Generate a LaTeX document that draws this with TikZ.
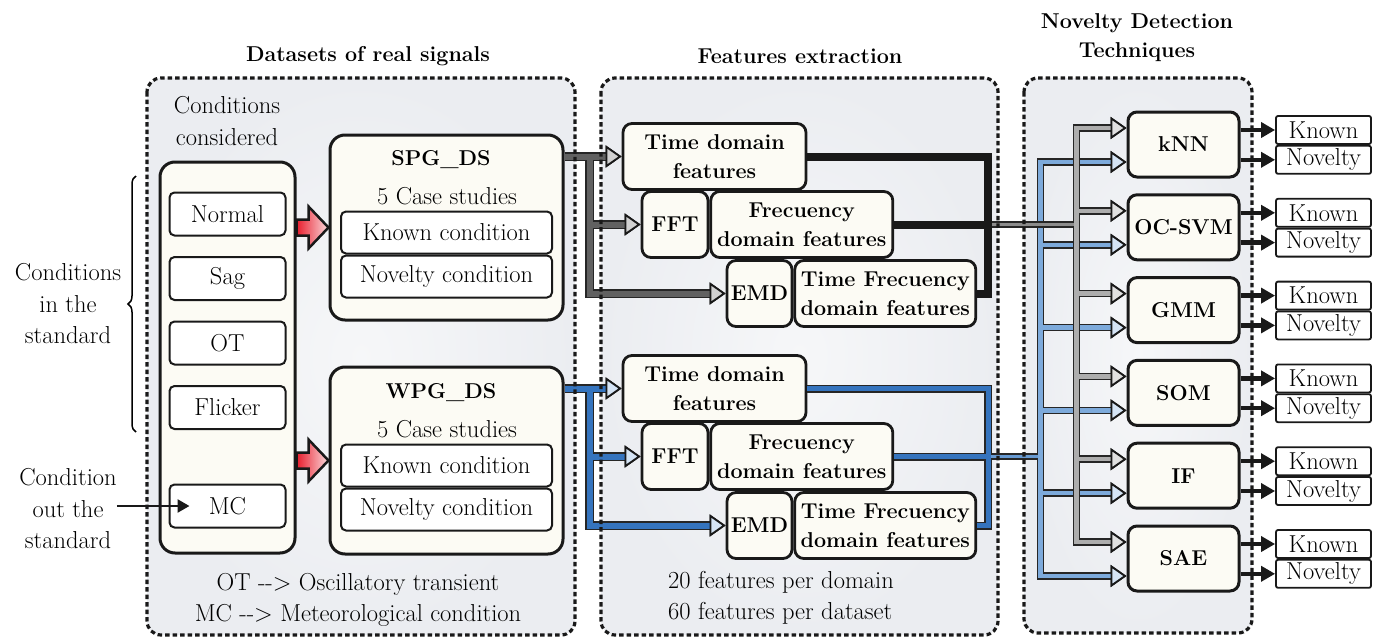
\documentclass[tikz,border=0pt]{standalone}
\usepackage{tikz}
\usetikzlibrary{positioning, arrows.meta, calc, decorations.pathreplacing}
\pgfdeclarelayer{background}
\pgfdeclarelayer{foreground}
\pgfsetlayers{background,main,foreground}
\definecolor{panelbg}{HTML}{EBEDF1}
\definecolor{cream}{HTML}{FCFBF4}
\definecolor{sigred}{HTML}{E81E2D}
\definecolor{sigpink}{HTML}{FBDADD}
\definecolor{wpgblue}{HTML}{3574BE}
\definecolor{trunkblue}{HTML}{7DAADB}
\definecolor{headblue}{HTML}{D5E4F5}
\newcommand{\Reg}{\fontsize{24.5}{31.5}\selectfont}
\newcommand{\Bld}{\fontsize{21.5}{29}\selectfont\bfseries}
\tikzset{
    txt/.style={font=\Reg, inner sep=0pt, align=center},
    btxt/.style={font=\Bld, inner sep=0pt, align=center},
    panel/.style={draw=black!90, line width=3.2pt, dash pattern=on 4.5pt off 3pt, rounded corners=14pt},
    panelfill/.style={inner color=panelbg!45!white, outer color=panelbg, rounded corners=14pt},
    bigbox/.style={draw=black!90, fill=cream, line width=3pt, rounded corners=15pt},
    condbox/.style={txt, draw=black!90, fill=white, line width=2pt, rounded corners=5pt, minimum width=116pt, minimum height=43pt},
    casebox/.style={txt, draw=black!90, fill=white, line width=2pt, rounded corners=5pt, minimum width=211pt, minimum height=42pt},
    featbox/.style={btxt, draw=black!90, fill=cream, line width=2.8pt, rounded corners=9pt, minimum height=66pt},
    ndbox/.style={btxt, draw=black!90, fill=cream, line width=3pt, rounded corners=9pt, minimum width=111pt, minimum height=65pt},
    outbox/.style={txt, draw=black!90, fill=white, line width=1.8pt, rounded corners=2pt, minimum width=95pt, minimum height=28pt},
    redblock/.style={draw=black!90, line width=2.5pt, left color=sigred, right color=sigpink, line join=miter},
    headtip/.style={-{Triangle[length=16pt, width=22pt, line width=1.8pt, color=black!90, fill=#1]}},
    feedout/.style={line width=9pt, draw=black!85, headtip=white},
    feedgray/.style={line width=6pt, draw=black!62, headtip=black!18},
    feedblue/.style={line width=6pt, draw=wpgblue, headtip=headblue},
    trunkout/.style={line width=7.5pt, draw=black!85, headtip=white},
    trunkgray/.style={line width=4.5pt, draw=black!32, headtip=black!12},
    trunkbl/.style={line width=4.5pt, draw=trunkblue, headtip=headblue},
    linkout/.style={line width=6.5pt, draw=black!85},
    linkgray/.style={line width=3.5pt, draw=black!45},
    linkblue/.style={line width=3.5pt, draw=trunkblue!70!wpgblue},
    collect/.style={line width=8pt, draw=black!90},
    collout/.style={line width=8pt, draw=black!85},
    collblue/.style={line width=5pt, draw=wpgblue},
    outarrow/.style={line width=4.5pt, draw=black!90, -{Triangle[length=14pt, width=15pt]}},
    inarrow/.style={line width=2.5pt, draw=black!90, -{Triangle[length=12pt, width=13pt]}},
}

\begin{document}
\begin{tikzpicture}[x=1pt, y=-1pt]
    \useasboundingbox (0,0) rectangle (1384,637);

    % panels
    \foreach \xa/\xb/\yb in {147/575/635, 601/998/635, 1024/1252/633} {
      \begin{pgfonlayer}{background}
        \shade[panelfill] (\xa,78) rectangle (\xb,\yb);
      \end{pgfonlayer}
      \begin{pgfonlayer}{foreground}
        \draw[panel] (\xa,78) rectangle (\xb,\yb);
      \end{pgfonlayer}
    }

    \node[btxt] (dstitle) at (368,56) {Datasets of real signals};
    \node[btxt] (fetitle) at (800,56) {Features extraction};
    \node[btxt] (ndtitle) at (1137,38) {Novelty Detection\\Techniques};

    % conditions
    \node[txt] (consid) at (227,121) {Conditions\\considered};
    \node[bigbox, minimum width=135pt, minimum height=391pt] (conds) at (227.5,357.5) {};
    \foreach \cname/\y [count=\i] in {Normal/214, Sag/278.5, OT/343, Flicker/407.5, MC/506}
      \node[condbox] (c\i) at (227.5,\y) {\cname};

    \node[txt] (instd) at (68,304) {Conditions\\in the\\standard};
    \node[txt] (outstd) at (68,509) {Condition\\out the\\standard};
    \draw[line width=1.5pt, decorate, decoration={brace, amplitude=8pt}] (136,432) -- (136,176);
    \draw[inarrow] (outstd.east |- c5) -- ([xshift=21pt]c5.west);

    % datasets
    \node[bigbox, minimum width=233pt, minimum height=185pt] (spg) at (446.5,227.5) {};
    \node[btxt] (spgname) at (441,160) {SPG\_DS};
    \node[txt] (spgcases) at (447,196) {5 Case studies};
    \node[casebox] (spgk) at (446.5,232.5) {Known condition};
    \node[casebox, below=0pt of spgk] (spgn) {Novelty condition};

    \node[bigbox, minimum width=233pt, minimum height=187pt] (wpg) at (446.5,460.5) {};
    \node[btxt] (wpgname) at (441,393) {WPG\_DS};
    \node[txt] (wpgcases) at (447,429) {5 Case studies};
    \node[casebox] (wpgk) at (446.5,465.5) {Known condition};
    \node[casebox, below=0pt of wpgk] (wpgn) {Novelty condition};

    \foreach \ds in {spg, wpg}
      \shadedraw[redblock] ($(conds.east |- \ds)+(0,-8)$) -- ++(12,0) -- ++(0,-13)
        -- (\ds.west) -- ($(conds.east |- \ds)+(12,21)$) -- ++(0,-13) -- ++(-12,0) -- cycle;

    \node[txt] (abbrev) at (358,600) {OT -{}-{}> Oscillatory transient\\MC -{}-{}> Meteorological condition};

    % features
    \foreach \g/\y in {1/156.5, 2/388.5} {
      \node[featbox, minimum width=183pt] (td\g) at (714.5,\y) {Time domain\\features};
      \node[featbox, minimum width=66pt] (fft\g) at (675,\y+68) {FFT};
      \node[featbox, minimum width=182pt, right=0pt of fft\g] (fq\g) {Frecuency\\domain features};
      \node[featbox, minimum width=65pt] (emd\g) at (759.5,\y+137) {EMD};
      \node[featbox, minimum width=181pt, right=0pt of emd\g] (tf\g) {Time Frecuency\\domain features};
    }
    \node[txt, align=left, anchor=west] (fcount) at (668,598) {20 features per domain\\60 features per dataset};

    % techniques
    \foreach \m [count=\i] in {kNN, OC-SVM, GMM, SOM, IF, SAE} {
      \node[ndbox] (nd\i) at (1183.5, {144.5+82.8*(\i-1)}) {\m};
      \node[outbox] (kn\i) at (1323.5, {130+82.8*(\i-1)}) {Known};
      \node[outbox, below=0pt of kn\i] (nv\i) {Novelty};
      \draw[outarrow] (nd\i.east |- kn\i) -- (kn\i.west);
      \draw[outarrow] (nd\i.east |- nv\i) -- (nv\i.west);
    }

    % dataset -> features
    \foreach \src/\g/\col in {spg/1/feedgray, wpg/2/feedblue} {
      \coordinate (sj\g) at ($(\src.east |- td\g.west)+(25,0)$);
      \draw[feedout] (\src.east |- td\g.west) -- (td\g.west);
      \draw[feedout] (\src.east |- td\g.west) -- (sj\g) |- (fft\g.west);
      \draw[feedout] (\src.east |- td\g.west) -- (sj\g) |- (emd\g.west);
      \draw[\col] (\src.east |- td\g.west) -- (td\g.west);
      \draw[\col] (sj\g) |- (fft\g.west);
      \draw[\col] (sj\g) |- (emd\g.west);
    }

    % features -> techniques
    \coordinate (cj1) at ($(fq1.east)+(94,0)$);
    \coordinate (cj2) at ($(fq2.east)+(94,0)$);
    \coordinate (gj) at ($(cj1 -| nd1.west)+(-50,0)$);
    \coordinate (bj) at ($(cj2 -| nd1.west)+(-86,0)$);

    \foreach \i in {1,...,6}
      \draw[trunkout] (bj) |- ([yshift=-17.5pt]nd\i.west);
    \draw[collout] (td2.east) -| (cj2) (fq2.east) -- (cj2) (tf2.east) -| (cj2);
    \draw[linkout] (cj2) -- (bj);
    \draw[linkblue] (cj2) -- (bj);
    \foreach \i in {1,...,6}
      \draw[trunkbl] (bj) |- ([yshift=-17.5pt]nd\i.west);
    \draw[collblue] (td2.east) -| (cj2) (fq2.east) -- (cj2) (tf2.east) -| (cj2);

    \foreach \i in {1,...,6}
      \draw[trunkout] (gj) |- ([yshift=16.5pt]nd\i.west);
    \draw[linkout] (cj1) -- (gj);
    \draw[linkgray] (cj1) -- (gj);
    \foreach \i in {1,...,6}
      \draw[trunkgray] (gj) |- ([yshift=16.5pt]nd\i.west);
    \draw[collect] (td1.east) -| (cj1) (fq1.east) -- (cj1) (tf1.east) -| (cj1);
\end{tikzpicture}
\end{document}
